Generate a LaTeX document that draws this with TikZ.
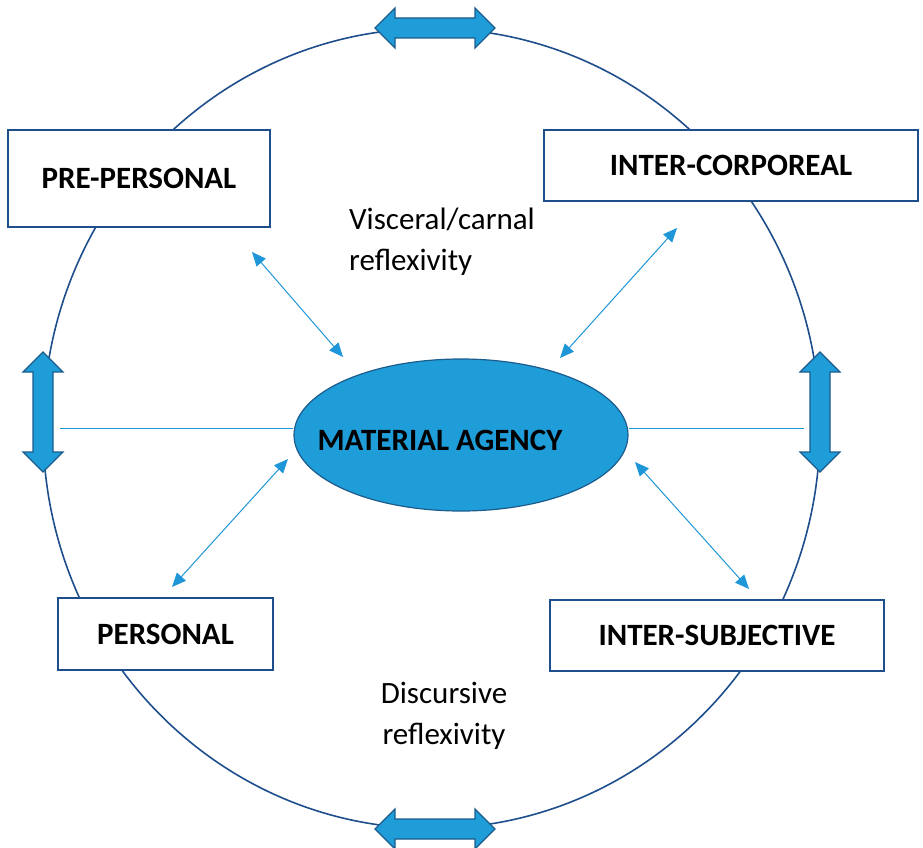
\documentclass[tikz,border=0pt]{standalone}
\usepackage{fontspec}
\setmainfont{Carlito}
\usetikzlibrary{shapes.geometric, arrows.meta, calc}
\definecolor{ringblue}{RGB}{31, 78, 140}
\definecolor{fillblue}{RGB}{30, 157, 217}
\definecolor{edgeblue}{RGB}{28, 92, 140}
\definecolor{linkblue}{RGB}{30, 150, 215}

\tikzset{
  stage/.style={draw=ringblue, line width=1.6pt, fill=white, inner sep=0pt,
    font=\fontsize{31}{37}\selectfont\bfseries},
  note/.style={inner sep=0pt, font=\fontsize{31}{41}\selectfont},
  link/.style={linkblue, line width=1pt,
    {Triangle[length=14pt, width=12pt]}-{Triangle[length=14pt, width=12pt]}},
  hline/.style={linkblue, line width=1pt},
  dblarrow/.pic={
    \draw[edgeblue, fill=fillblue, line width=1.2pt, line join=miter]
      (-60,0) -- (-40,-20) -- (-40,-10) -- (40,-10) -- (40,-20) -- (60,0)
      -- (40,20) -- (40,10) -- (-40,10) -- (-40,20) -- cycle;
  }
}

\begin{document}
\begin{tikzpicture}[x=1pt, y=-1pt]
    \useasboundingbox (0,0) rectangle (923,848);

    % Outer ring
    \draw[ringblue, line width=1.6pt] (431.5,428.5) ellipse [x radius=388.5, y radius=400];

    % Arrows on the ring
    \pic at (435,28) {dblarrow};
    \pic at (435,829) {dblarrow};
    \pic[rotate=90] at (43,412) {dblarrow};
    \pic[rotate=90] at (820,412) {dblarrow};

    % Centre (material agency)
    \node[ellipse, draw=edgeblue, fill=fillblue, line width=1.2pt,
          minimum width=334, minimum height=152] (agency) at (461,435) {};
    \node[font=\fontsize{31}{37}\selectfont\bfseries, inner sep=0pt] (agencytext) at (440,440) {MATERIAL AGENCY};

    % Four registers
    \node[stage, minimum width=262, minimum height=97] (pre) at (139,178.5) {PRE-PERSONAL};
    \node[stage, minimum width=374, minimum height=71] (corp) at (731,165.5) {INTER-CORPOREAL};
    \node[stage, minimum width=215, minimum height=72] (pers) at (165.5,634) {PERSONAL};
    \node[stage, minimum width=334, minimum height=71] (subj) at (717,635.5) {INTER-SUBJECTIVE};

    % Reflexivity labels
    \node[note, align=left] (visceral) at (442,242) {Visceral/carnal\\reflexivity};
    \node[note, align=center] (discursive) at (444,716) {Discursive\\reflexivity};

    % Horizontal links to the ring
    \coordinate (wline) at (60,428);
    \coordinate (eline) at (804,428);
    \draw[hline] (wline) -- (wline -| agency.west);
    \draw[hline] (eline) -- (eline -| agency.east);

    % Two-way links
    \coordinate (pre-out) at (252,252);
    \coordinate (pre-in) at (343,357);
    \coordinate (corp-out) at (677,228);
    \coordinate (corp-in) at (560,358);
    \coordinate (pers-out) at (172,587);
    \coordinate (pers-in) at (288,459);
    \coordinate (subj-out) at (749,589);
    \coordinate (subj-in) at (635,462);
    \draw[link] (pre-out) -- (pre-in);
    \draw[link] (corp-out) -- (corp-in);
    \draw[link] (pers-out) -- (pers-in);
    \draw[link] (subj-out) -- (subj-in);
\end{tikzpicture}
\end{document}
